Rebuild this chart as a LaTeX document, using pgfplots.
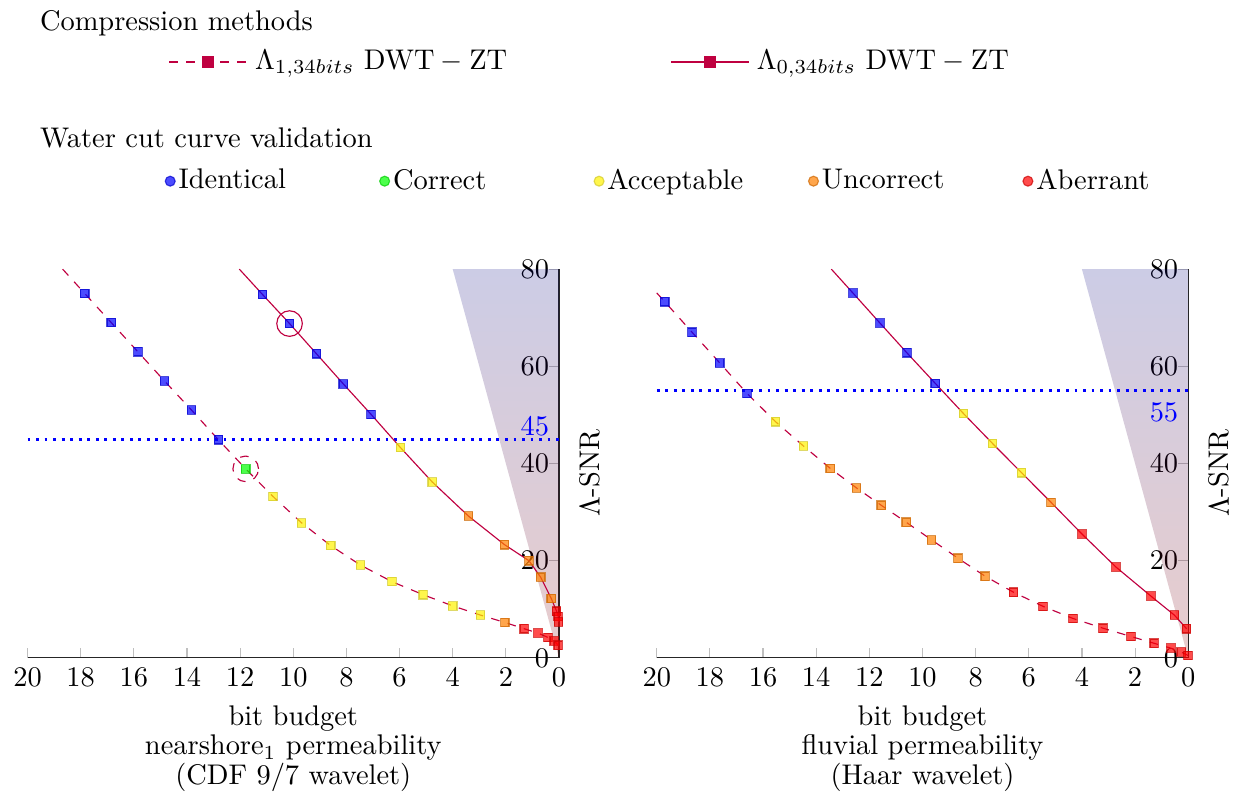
\documentclass[border=0pt]{standalone}
\usepackage{pgfplots}
\pgfplotsset{compat=1.18}

\pgfplotsset{
  snr axis/.style={
    scale only axis, width=187pt, height=136.8pt,
    x dir=reverse, xmin=0, xmax=20, ymin=0, ymax=80,
    xtick={0,2,...,20}, ytick={0,20,...,80},
    axis x line=bottom, axis y line=right,
    axis line style={-, black!85},
    tick align=inside, major tick length=3.5pt,
    tick style={black!25, thin},
    yticklabel style={anchor=east},
    xlabel style={align=center},
    clip=false,
  },
  l1/.style={purple, dashed, no marks},
  l0/.style={purple, solid, no marks},
  cat/.style={only marks, mark=square*, mark size=1.5pt,
    mark options={solid, draw=#1!80!black, fill=#1, opacity=0.7}},
  legcat/.style={only marks, mark=*, mark size=1.75pt,
    mark options={draw=#1!80!black, fill=#1, opacity=0.7}},
}
\tikzset{
  quality/.style={top color=blue!50!black, middle color=yellow!80!black,
    bottom color=red!55!black, opacity=0.2},
}

\begin{document}
\begin{tikzpicture}

% nearshore_1, CDF 9/7
\begin{axis}[snr axis, at={(0pt,0pt)}, anchor=south west,
  xlabel={bit budget\\[-1.65pt]nearshore$_1$ permeability\\[-1.65pt](CDF 9/7 wavelet)}]
\shade[quality] (axis cs:4,80) -- (axis cs:0,80) -- (axis cs:0,0) -- cycle;
\addplot[blue, line width=1pt, dotted] coordinates {(20,45) (0,45)};
\node[blue, anchor=east] at (axis cs:0,47.7) {45};
\addplot[l1] coordinates {(18.68,80) (17.85,75.0) (16.85,69.0) (15.85,63.0) (14.85,57.0) (13.83,51.0) (12.82,44.9) (11.79,38.9) (10.76,33.2) (9.69,27.8) (8.59,23.1) (7.47,19.1) (6.29,15.7) (5.11,13.0) (4.0,10.7) (2.95,8.8) (2.04,7.3) (1.31,6.0) (0.79,5.1) (0.41,4.2) (0.18,3.5) (0.03,2.6)};
\addplot[l0] coordinates {(12.03,80) (11.16,74.8) (10.14,68.8) (9.13,62.6) (8.12,56.4) (7.07,50.1) (5.97,43.3) (4.77,36.2) (3.41,29.2) (2.05,23.3) (1.13,20.0) (0.69,16.6) (0.29,12.2) (0.09,9.6) (0.03,8.5) (0.02,7.4)};
% Lambda_1 markers
\addplot[cat=blue] coordinates {(17.85,75.0) (16.85,69.0) (15.85,63.0) (14.85,57.0) (13.83,51.0) (12.82,44.9)};
\addplot[cat=green] coordinates {(11.79,38.9)};
\addplot[cat=yellow] coordinates {(10.76,33.2) (9.69,27.8) (8.59,23.1) (7.47,19.1) (6.29,15.7) (5.11,13.0) (4.0,10.7) (2.95,8.8)};
\addplot[cat=orange] coordinates {(2.04,7.3)};
\addplot[cat=red] coordinates {(1.31,6.0) (0.79,5.1) (0.41,4.2) (0.18,3.5) (0.03,2.6)};
% Lambda_0 markers
\addplot[cat=blue] coordinates {(11.16,74.8) (10.14,68.8) (9.13,62.6) (8.12,56.4) (7.07,50.1)};
\addplot[cat=yellow] coordinates {(5.97,43.3) (4.77,36.2)};
\addplot[cat=orange] coordinates {(3.41,29.2) (2.05,23.3) (1.13,20.0) (0.69,16.6) (0.29,12.2)};
\addplot[cat=red] coordinates {(0.09,9.6) (0.03,8.5) (0.02,7.4)};
\draw[purple] (axis cs:10.14,68.8) circle[radius=4.5pt];
\draw[purple, dashed] (axis cs:11.79,38.9) circle[radius=4.5pt];
\path (axis cs:0,38) ++(10.9pt,0) node[rotate=90] {$\Lambda$-SNR};
\end{axis}

% fluvial, Haar
\begin{axis}[snr axis, at={(221.4pt,0pt)}, anchor=south west,
  xlabel={bit budget\\[-1.65pt]fluvial permeability\\[-1.65pt](Haar wavelet)}]
\shade[quality] (axis cs:4,80) -- (axis cs:0,80) -- (axis cs:0,0) -- cycle;
\addplot[blue, line width=1pt, dotted] coordinates {(20,55) (0,55)};
\node[blue, anchor=east] at (axis cs:0,50.5) {55};
\addplot[l1] coordinates {(20,75.1) (19.7,73.3) (18.67,67.0) (17.63,60.7) (16.6,54.4) (15.53,48.6) (14.48,43.6) (13.47,39.0) (12.49,35.0) (11.55,31.4) (10.61,27.9) (9.66,24.3) (8.66,20.5) (7.64,16.8) (6.57,13.5) (5.46,10.6) (4.33,8.1) (3.2,6.1) (2.15,4.4) (1.28,3.0) (0.65,2.0) (0.26,1.2) (0.01,0.5)};
\addplot[l0] coordinates {(13.43,80) (12.62,75.1) (11.6,68.9) (10.59,62.8) (9.52,56.5) (8.46,50.3) (7.36,44.1) (6.27,38.1) (5.16,32.0) (4.0,25.5) (2.72,18.7) (1.4,12.7) (0.52,8.8) (0.06,6.0)};
% Lambda_1 markers
\addplot[cat=blue] coordinates {(19.7,73.3) (18.67,67.0) (17.63,60.7) (16.6,54.4)};
\addplot[cat=yellow] coordinates {(15.53,48.6) (14.48,43.6)};
\addplot[cat=orange] coordinates {(13.47,39.0) (12.49,35.0) (11.55,31.4) (10.61,27.9) (9.66,24.3) (8.66,20.5) (7.64,16.8)};
\addplot[cat=red] coordinates {(6.57,13.5) (5.46,10.6) (4.33,8.1) (3.2,6.1) (2.15,4.4) (1.28,3.0) (0.65,2.0) (0.26,1.2) (0.01,0.5)};
% Lambda_0 markers
\addplot[cat=blue] coordinates {(12.62,75.1) (11.6,68.9) (10.59,62.8) (9.52,56.5)};
\addplot[cat=yellow] coordinates {(8.46,50.3) (7.36,44.1) (6.27,38.1)};
\addplot[cat=orange] coordinates {(5.16,32.0)};
\addplot[cat=red] coordinates {(4.0,25.5) (2.72,18.7) (1.4,12.7) (0.52,8.8) (0.06,6.0)};
\path (axis cs:0,38) ++(10.9pt,0) node[rotate=90] {$\Lambda$-SNR};
\end{axis}

% legend: compression methods
\begin{axis}[hide axis, scale only axis, width=187pt, height=136.8pt,
  xmin=0, xmax=1, ymin=0, ymax=1, at={(0pt,0pt)}, anchor=south west,
  legend columns=2,
  legend style={at={(0.2637,1.5332)}, anchor=west, draw=none, fill=none,
    inner sep=0pt, nodes={inner sep=2.3pt}},
  legend image code/.code={\draw[mark repeat=2, mark phase=2, #1]
    plot coordinates {(0pt,0pt) (13.6pt,0pt) (27.2pt,0pt)};}]
\addlegendimage{purple, dashed, semithick, mark=square*, mark size=1.8pt, mark options={solid}}
\addlegendentry{\makebox[144.3pt][l]{\hspace{0.5pt}$\Lambda_{1,34bits}\ \mathrm{DWT}-\mathrm{ZT}$}}
\addlegendimage{purple, solid, semithick, mark=square*, mark size=1.8pt}
\addlegendentry{\hspace{0.3pt}$\Lambda_{0,34bits}\ \mathrm{DWT}-\mathrm{ZT}$}
\end{axis}

% legend: water cut curve validation
\begin{axis}[hide axis, scale only axis, width=187pt, height=136.8pt,
  xmin=0, xmax=1, ymin=0, ymax=1, at={(0pt,0pt)}, anchor=south west,
  legend columns=5,
  legend style={at={(0.258,1.2262)}, anchor=west, draw=none, fill=none,
    inner sep=0pt, nodes={inner sep=0.5pt}},
  legend image code/.code={\draw[#1] plot coordinates {(0pt,0pt)};}]
\addlegendimage{legcat=blue}
\addlegendentry{\makebox[70.95pt][l]{\hspace{0.7pt}Identical}}
\addlegendimage{legcat=green}
\addlegendentry{\makebox[70.95pt][l]{\hspace{0.7pt}Correct}}
\addlegendimage{legcat=yellow}
\addlegendentry{\makebox[70.95pt][l]{\hspace{0.7pt}Acceptable}}
\addlegendimage{legcat=orange}
\addlegendentry{\makebox[70.95pt][l]{\hspace{0.7pt}Uncorrect}}
\addlegendimage{legcat=red}
\addlegendentry{\hspace{0.7pt}Aberrant}
\end{axis}

\node[anchor=base west, inner sep=0pt] at (4.2pt,220.7pt) {Compression methods};
\node[anchor=base west, inner sep=0pt] at (4.2pt,179.6pt) {Water cut curve validation};
\path (-9.7pt,0pt) (0pt,231.5pt);
\end{tikzpicture}
\end{document}
